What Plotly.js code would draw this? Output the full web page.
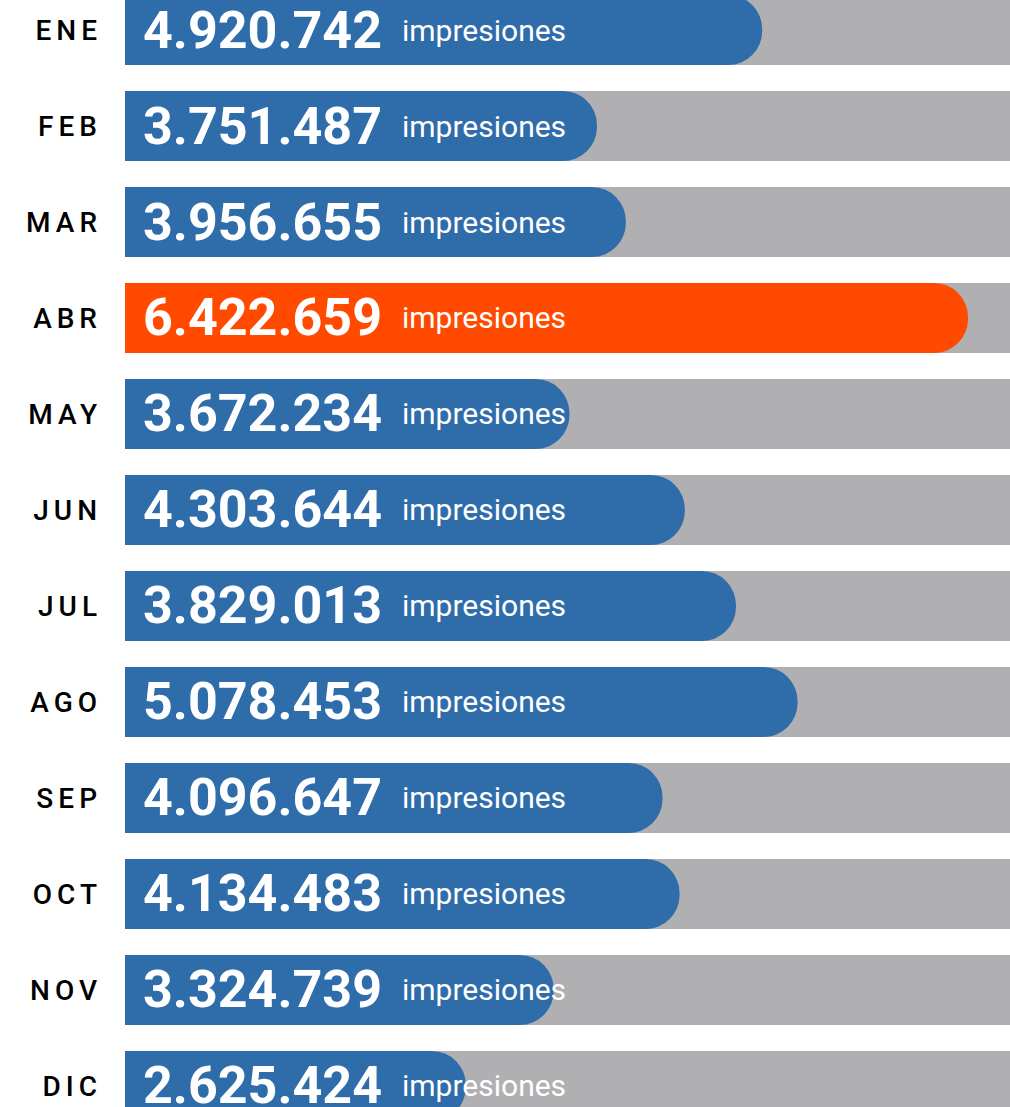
<!DOCTYPE html>
<html>
<head>
<meta charset="utf-8">
<script src="https://cdn.plot.ly/plotly-3.0.1.min.js"></script>
<style>
  html, body { margin: 0; padding: 0; background: #ffffff; }
  #chart { width: 1010px; height: 1107px; }
  .ytick text { letter-spacing: 5px; }
</style>
</head>
<body>
<div id="chart"></div>
<script>
// Month labels
const months = ["ENE", "FEB", "MAR", "ABR", "MAY", "JUN", "JUL", "AGO", "SEP", "OCT", "NOV", "DIC"];
// Impressions per month (labels)
const impressions = [4920742, 3751487, 3956655, 6422659, 3672234, 4303644, 3829013, 5078453, 4096647, 4134483, 3324739, 2625424];
// Bar length as drawn in the original graphic, in millions on the bar scale
const barLength = [4.86, 3.60, 3.82, 6.43, 3.39, 4.27, 4.66, 5.13, 4.10, 4.23, 3.27, 2.60];
// Full-scale track length (millions)
const trackMax = 6.75;
// Highlighted month
const highlight = "ABR";
const unitLabel = "impresiones";

const blue = "#2F6CAA";
const orange = "#FF4A00";
const grey = "#B0B0B2";

function fmt(n) {
  return String(n).replace(/\B(?=(\d{3})+(?!\d))/g, ".");
}

// Grey track on the base subplot
const track = {
  type: "bar",
  orientation: "h",
  xaxis: "x", yaxis: "y",
  y: months,
  x: months.map(() => trackMax),
  width: 0.729,
  marker: { color: grey, cornerradius: 0, line: { width: 0 } },
  hoverinfo: "skip",
  showlegend: false
};

// Value bars on an overlaying subplot so their ends get rounded
const bars = {
  type: "bar",
  orientation: "h",
  xaxis: "x2", yaxis: "y",
  y: months,
  x: barLength,
  width: 0.729,
  marker: {
    color: months.map(m => m === highlight ? orange : blue),
    cornerradius: "50%",
    line: { width: 0 }
  },
  customdata: impressions,
  hovertemplate: "%{y}: %{customdata}<extra></extra>",
  showlegend: false
};

const annotations = [];
months.forEach((m, i) => {
  annotations.push({
    xref: "x", yref: "y", x: 0, y: m,
    xanchor: "left", yanchor: "middle",
    xshift: 16, yshift: 0,
    text: "<b>" + fmt(impressions[i]) + "</b>",
    showarrow: false,
    font: { family: "Roboto, sans-serif", size: 52, color: "#ffffff" }
  });
  annotations.push({
    xref: "x", yref: "y", x: 0, y: m,
    xanchor: "left", yanchor: "middle",
    xshift: 275, yshift: 0,
    text: unitLabel,
    showarrow: false,
    font: { family: "Roboto, sans-serif", size: 30, color: "#ffffff" }
  });
});

const hiddenX = {
  range: [0, trackMax],
  showgrid: false, zeroline: false, showticklabels: false, showline: false,
  ticks: "",
  fixedrange: true
};

const layout = {
  width: 1010,
  height: 1107,
  margin: { l: 125, r: 0, t: 0, b: 0, pad: 0 },
  paper_bgcolor: "#ffffff",
  plot_bgcolor: "#ffffff",
  barmode: "overlay",
  showlegend: false,
  xaxis: Object.assign({}, hiddenX),
  xaxis2: Object.assign({ overlaying: "x" }, hiddenX),
  yaxis: {
    type: "category",
    categoryorder: "array",
    categoryarray: months,
    range: [11.219, -0.3125],
    showgrid: false, zeroline: false, showline: false,
    ticks: "",
    ticklabelstandoff: 22,
    tickfont: { family: "Roboto, sans-serif", size: 28, color: "#000000", weight: 500 },
    fixedrange: true
  },
  annotations: annotations
};

Plotly.newPlot("chart", [track, bars], layout, { displayModeBar: false, staticPlot: true });
</script>
</body>
</html>
